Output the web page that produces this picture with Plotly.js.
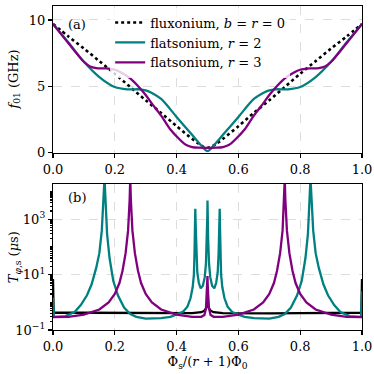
<!DOCTYPE html>
<html>
<head>
<meta charset="utf-8">
<script src="https://cdn.plot.ly/plotly-3.0.1.min.js"></script>
<style>
  html, body { margin: 0; padding: 0; background: #fff; }
  #chart { width: 374px; height: 374px; }
</style>
</head>
<body>
<div id="chart"></div>
<script>
// ---- (a) transition frequency f01 (GHz) vs reduced flux ----
const fluxX = [0, 0.05, 0.1, 0.15, 0.2, 0.25, 0.3, 0.35, 0.4, 0.45, 0.47, 0.49, 0.5,
               0.51, 0.53, 0.55, 0.6, 0.65, 0.7, 0.75, 0.8, 0.85, 0.9, 0.95, 1.0];
const fluxF = [9.7, 8.75, 7.85, 6.9, 5.95, 4.95, 3.95, 3.0, 2.0, 1.05, 0.7, 0.42, 0.38,
               0.42, 0.7, 1.05, 2.0, 3.0, 3.95, 4.95, 5.95, 6.9, 7.85, 8.75, 9.7];

const r2X = [0, 0.05, 0.1, 0.15, 0.2, 0.24, 0.28, 0.3, 0.32, 0.35, 0.4, 0.45, 0.48, 0.5,
             0.52, 0.55, 0.6, 0.65, 0.68, 0.7, 0.72, 0.76, 0.8, 0.85, 0.9, 0.95, 1.0];
const r2F = [9.7, 8.3, 6.85, 5.7, 4.95, 4.78, 4.78, 4.7, 4.5, 4.05, 2.7, 1.35, 0.55, 0.12,
             0.55, 1.35, 2.7, 4.05, 4.5, 4.7, 4.78, 4.78, 4.95, 5.7, 6.85, 8.3, 9.7];

const r3X = [0, 0.05, 0.1, 0.12, 0.14, 0.17, 0.2, 0.22, 0.25, 0.28, 0.3, 0.32, 0.35, 0.38, 0.41, 0.43, 0.45, 0.47,
             0.5,
             0.53, 0.55, 0.57, 0.59, 0.62, 0.65, 0.68, 0.7, 0.72, 0.75, 0.78, 0.8, 0.83, 0.86, 0.88, 0.9, 0.95, 1.0];
const r3F = [9.7, 8.25, 6.85, 6.5, 6.38, 6.35, 6.25, 6.05, 5.6, 4.9, 4.35, 3.7, 2.8, 1.75, 1.0, 0.6, 0.43, 0.38,
             0.37,
             0.38, 0.43, 0.6, 1.0, 1.75, 2.8, 3.7, 4.35, 4.9, 5.6, 6.05, 6.25, 6.35, 6.38, 6.5, 6.85, 8.25, 9.7];

// ---- (b) dephasing time T_phi,s (us), log scale ----
const bkX = [0, 0.002, 0.1, 0.2, 0.3, 0.4, 0.45, 0.48, 0.49, 0.495, 0.498, 0.5,
             0.502, 0.505, 0.51, 0.52, 0.55, 0.6, 0.7, 0.8, 0.9, 0.998, 1.0];
const bkT = [7, 0.42, 0.42, 0.41, 0.4, 0.4, 0.41, 0.44, 0.5, 0.6, 0.8, 1.0,
             0.8, 0.6, 0.5, 0.44, 0.41, 0.4, 0.4, 0.41, 0.42, 0.42, 7];

const tlX = [0, 0.003, 0.04, 0.07, 0.09, 0.11, 0.125, 0.14, 0.15, 0.158, 0.163, 0.1667, 0.17, 0.175, 0.183,
             0.195, 0.21, 0.23, 0.25, 0.27, 0.3, 0.35, 0.38, 0.4, 0.42, 0.435, 0.445, 0.452, 0.456, 0.458,
             0.4595, 0.4605, 0.462, 0.464, 0.467, 0.472, 0.478, 0.485, 0.491, 0.495, 0.498, 0.4995,
             0.5,
             0.5005, 0.502, 0.505, 0.509, 0.515, 0.522, 0.528, 0.533, 0.536, 0.538, 0.5395, 0.5405, 0.542,
             0.544, 0.548, 0.555, 0.565, 0.58, 0.6, 0.62, 0.65, 0.7, 0.73, 0.75, 0.77, 0.79, 0.805, 0.817,
             0.825, 0.83, 0.8333, 0.837, 0.842, 0.85, 0.86, 0.875, 0.89, 0.91, 0.93, 0.96, 0.997, 1.0];
const tlT = [1.5, 0.3, 0.32, 0.45, 0.8, 1.8, 4.5, 18, 60, 400, 5000, 30000, 5000, 300, 40,
             6, 1.8, 0.65, 0.38, 0.3, 0.26, 0.27, 0.3, 0.36, 0.45, 0.7, 1.4, 3.5, 10, 60,
             500, 2400, 500, 60, 12, 5, 3.2, 4, 8, 25, 200, 1500,
             4800,
             1500, 200, 25, 8, 4, 3.2, 5, 12, 60, 500, 2400, 500, 60,
             10, 3.5, 1.4, 0.7, 0.45, 0.36, 0.3, 0.27, 0.26, 0.3, 0.38, 0.65, 1.8, 6, 40,
             300, 5000, 30000, 5000, 400, 60, 18, 4.5, 1.8, 0.8, 0.45, 0.32, 0.3, 2.5];

const puX = [0, 0.05, 0.1, 0.15, 0.18, 0.2, 0.215, 0.225, 0.235, 0.243, 0.248, 0.25, 0.252, 0.257,
             0.265, 0.275, 0.285, 0.3, 0.32, 0.35, 0.4, 0.45, 0.48, 0.49, 0.495, 0.498, 0.4995,
             0.5,
             0.5005, 0.502, 0.505, 0.51, 0.52, 0.55, 0.6, 0.65, 0.68, 0.7, 0.715, 0.725, 0.735,
             0.743, 0.748, 0.75, 0.752, 0.757, 0.765, 0.775, 0.785, 0.8, 0.82, 0.85, 0.9, 0.95, 1.0];
const puT = [0.29, 0.3, 0.36, 0.55, 1.0, 2.0, 5, 14, 60, 400, 5000, 30000, 5000, 400,
             60, 14, 5, 2.0, 1.0, 0.55, 0.36, 0.3, 0.3, 0.35, 0.6, 2, 5,
             9,
             5, 2, 0.6, 0.35, 0.3, 0.3, 0.36, 0.55, 1.0, 2.0, 5, 14, 60,
             400, 5000, 30000, 5000, 400, 60, 14, 5, 2.0, 1.0, 0.55, 0.36, 0.3, 0.29];

// log-axis tick labels
const logTickVals = [0.1, 10, 1000];
const logTickText = ['10<sup>−1</sup>', '10<sup>1</sup>', '10<sup>3</sup>'];

const names = ['fluxonium, <i>b</i> = <i>r</i> = 0',
               'flatsonium, <i>r</i> = 2',
               'flatsonium, <i>r</i> = 3'];
const TEAL = '#008080';
const PURPLE = '#800080';
const FONT = 'DejaVu Serif';

const traces = [
  { x: fluxX, y: fluxF, xaxis: 'x', yaxis: 'y', mode: 'lines', name: names[0],
    line: { color: 'black', width: 2.6, dash: 'dot', shape: 'spline', smoothing: 0.8 } },
  { x: r2X, y: r2F, xaxis: 'x', yaxis: 'y', mode: 'lines', name: names[1],
    line: { color: TEAL, width: 2.3, shape: 'spline', smoothing: 0.8 } },
  { x: r3X, y: r3F, xaxis: 'x', yaxis: 'y', mode: 'lines', name: names[2],
    line: { color: PURPLE, width: 2.3, shape: 'spline', smoothing: 0.8 } },
  { x: bkX, y: bkT, xaxis: 'x2', yaxis: 'y2', mode: 'lines', showlegend: false,
    line: { color: 'black', width: 2.3 } },
  { x: tlX, y: tlT, xaxis: 'x2', yaxis: 'y2', mode: 'lines', showlegend: false,
    line: { color: TEAL, width: 2.3 } },
  { x: puX, y: puT, xaxis: 'x2', yaxis: 'y2', mode: 'lines', showlegend: false,
    line: { color: PURPLE, width: 2.3 } }
];

const axisCommon = {
  showline: true, linecolor: 'black', linewidth: 1.2, mirror: true,
  ticks: 'outside', ticklen: 4, tickwidth: 1.2, tickcolor: 'black',
  showgrid: true, gridcolor: '#dddddd', griddash: 'dash', gridwidth: 1,
  zeroline: false, tickfont: { family: FONT, size: 13, color: 'black' }
};

const layout = {
  width: 374, height: 374,
  margin: { l: 53, r: 12, t: 6, b: 44 },
  paper_bgcolor: 'white', plot_bgcolor: 'white',
  font: { family: FONT, size: 13, color: 'black' },
  showlegend: true,
  legend: {
    x: 0.185, y: 0.995, xanchor: 'left', yanchor: 'top',
    bgcolor: 'rgba(255,255,255,0.8)', borderwidth: 0,
    font: { family: FONT, size: 13, color: 'black' },
    tracegroupgap: 0, itemwidth: 30
  },
  xaxis: Object.assign({}, axisCommon, {
    anchor: 'y', domain: [0, 1], range: [0, 1], dtick: 0.2, tickformat: '.1f'
  }),
  yaxis: Object.assign({}, axisCommon, {
    anchor: 'x', domain: [0.547, 1], range: [0, 11.05], dtick: 5
  }),
  xaxis2: Object.assign({}, axisCommon, {
    anchor: 'y2', domain: [0, 1], range: [0, 1], dtick: 0.2, tickformat: '.1f',
    title: { text: 'Φ<sub>s</sub>/(<i>r</i> + 1)Φ<sub>0</sub>', standoff: 2,
             font: { family: FONT, size: 13, color: 'black' } }
  }),
  yaxis2: Object.assign({}, axisCommon, {
    anchor: 'x2', domain: [0, 0.4506], type: 'log', range: [-1, 4.28],
    tickmode: 'array', tickvals: logTickVals, ticktext: logTickText,
    minor: { ticks: 'outside', ticklen: 2, tickcolor: 'black', dtick: 'D1', showgrid: false }
  }),
  annotations: [
    { xref: 'paper', yref: 'paper', x: -0.126, y: 0.773, textangle: -90,
      text: '<i>f</i><sub>01</sub> (GHz)', showarrow: false,
      xanchor: 'center', yanchor: 'middle', font: { family: FONT, size: 13 } },
    { xref: 'paper', yref: 'paper', x: -0.126, y: 0.225, textangle: -90,
      text: '<i>T</i><sub><i>φ</i>,s</sub> (<i>μ</i>s)', showarrow: false,
      xanchor: 'center', yanchor: 'middle', font: { family: FONT, size: 13 } },
    { xref: 'paper', yref: 'paper', x: 0.078, y: 0.942, text: '(a)', showarrow: false,
      xanchor: 'center', yanchor: 'middle', font: { family: FONT, size: 13 } },
    { xref: 'paper', yref: 'paper', x: 0.078, y: 0.41, text: '(b)', showarrow: false,
      xanchor: 'center', yanchor: 'middle', font: { family: FONT, size: 13 } }
  ]
};

Plotly.newPlot('chart', traces, layout, { displayModeBar: false, staticPlot: true });
</script>
</body>
</html>
